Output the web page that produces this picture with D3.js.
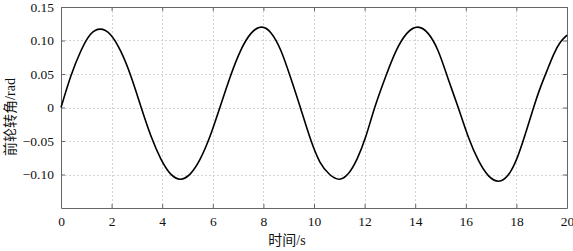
<!DOCTYPE html>
<html>
<head>
<meta charset="utf-8">
<script src="https://cdn.jsdelivr.net/npm/d3@7"></script>
<style>
  body { margin: 0; background: #fff; }
</style>
</head>
<body>
<div id="chart"></div>
<script>
// values
const timeS = [0, 0.39, 0.78, 1.16, 1.55, 1.95, 2.36, 2.76, 3.17, 3.56, 3.95, 4.33, 4.72, 5.11, 5.5, 5.89,
    6.28, 6.69, 7.1, 7.52, 7.93, 8.31, 8.69, 9.08, 9.46, 9.85, 10.23, 10.62, 11.0, 11.35, 11.7, 12.05,
    12.4, 12.83, 13.25, 13.68, 14.1, 14.5, 14.9, 15.3, 15.7, 16.1, 16.5, 16.9, 17.3, 17.65, 17.99, 18.34,
    18.68, 18.95, 19.21, 19.47, 19.73, 20];
const angleRad = [0, 0.047, 0.084, 0.109, 0.117, 0.109, 0.084, 0.047, 0, -0.043, -0.077, -0.099, -0.107, -0.099, -0.077, -0.043,
    0, 0.046, 0.085, 0.111, 0.120, 0.111, 0.085, 0.044, 0, -0.046, -0.081, -0.100, -0.107, -0.099, -0.077, -0.043,
    0, 0.046, 0.085, 0.111, 0.120, 0.111, 0.085, 0.043, 0, -0.044, -0.079, -0.102, -0.110, -0.102, -0.079, -0.041,
    0, 0.030, 0.055, 0.079, 0.097, 0.108];
const xTicks = [0, 2, 4, 6, 8, 10, 12, 14, 16, 18, 20];
const yTicks = [0.15, 0.10, 0.05, 0, -0.05, -0.10];
const yGrid = [0.10, 0.05, 0, -0.05, -0.10];

const width = 573, height = 251;
const margin = { left: 61, right: 6, top: 7, bottom: 43 };
const serif = "Liberation Serif, Times New Roman, serif";
const cjk = "Liberation Serif, Noto Sans CJK SC, serif";

const svg = d3.select("#chart").append("svg")
    .attr("width", width)
    .attr("height", height);

const x = d3.scaleLinear().domain([0, 20]).range([margin.left, width - margin.right]);
const y = d3.scaleLinear().domain([-0.15, 0.15]).range([height - margin.bottom, margin.top]);

const fmtY = v => v === 0 ? "0" : (v < 0 ? "\u2212" : "") + Math.abs(v).toFixed(2);

// grid
const grid = svg.append("g").attr("stroke", "#d4d4d4").attr("stroke-width", 1)
    .attr("stroke-dasharray", "2,2");
grid.selectAll("line.v").data(xTicks.slice(1, -1)).enter().append("line")
    .attr("x1", d => Math.round(x(d)) + 0.5).attr("x2", d => Math.round(x(d)) + 0.5)
    .attr("y1", y(0.15)).attr("y2", y(-0.15));
grid.selectAll("line.h").data(yGrid).enter().append("line")
    .attr("y1", d => Math.round(y(d)) + 0.5).attr("y2", d => Math.round(y(d)) + 0.5)
    .attr("x1", x(0)).attr("x2", x(20));

// axes: ticks inward on all four sides
const axBottom = svg.append("g").attr("transform", `translate(0,${y(-0.15)})`)
    .call(d3.axisBottom(x).tickValues(xTicks).tickSizeInner(-4).tickSizeOuter(0).tickPadding(8));
const axTop = svg.append("g").attr("transform", `translate(0,${y(0.15)})`)
    .call(d3.axisTop(x).tickValues(xTicks).tickSizeInner(-4).tickSizeOuter(0).tickFormat(""));
const axLeft = svg.append("g").attr("transform", `translate(${x(0)},0)`)
    .call(d3.axisLeft(y).tickValues(yTicks).tickFormat(fmtY).tickSizeInner(-4).tickSizeOuter(0).tickPadding(7));
const axRight = svg.append("g").attr("transform", `translate(${x(20)},0)`)
    .call(d3.axisRight(y).tickValues(yTicks).tickSizeInner(-4).tickSizeOuter(0).tickFormat(""));

[axBottom, axTop, axLeft, axRight].forEach(a => {
    a.attr("font-family", serif).attr("font-size", 13.5);
    a.select(".domain").attr("stroke", "#666");
    a.selectAll(".tick line").attr("stroke", "#666");
    a.selectAll("text").attr("fill", "#111");
});

// curve
const pts = timeS.map((t, i) => [t, angleRad[i]]);
svg.append("path")
    .datum(pts)
    .attr("fill", "none")
    .attr("stroke", "#000")
    .attr("stroke-width", 1.6)
    .attr("d", d3.line().x(d => x(d[0])).y(d => y(d[1])).curve(d3.curveNatural));

// axis titles
svg.append("text")
    .attr("x", 287).attr("y", 245)
    .attr("text-anchor", "middle")
    .attr("font-family", cjk)
    .attr("font-size", 14)
    .attr("fill", "#111")
    .text("时间/s");

svg.append("text")
    .attr("transform", "translate(15,117) rotate(-90)")
    .attr("text-anchor", "middle")
    .attr("font-family", cjk)
    .attr("font-size", 14)
    .attr("fill", "#111")
    .text("前轮转角/rad");
</script>
</body>
</html>
